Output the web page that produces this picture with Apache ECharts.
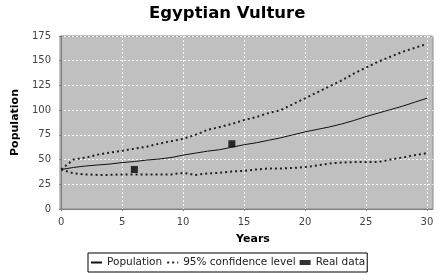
<!DOCTYPE html>
<html>
<head>
<meta charset="utf-8">
<script src="https://cdn.jsdelivr.net/npm/echarts@6/dist/echarts.min.js"></script>
<style>
  html, body { margin: 0; padding: 0; background: #fff; }
  #chart { width: 441px; height: 280px; }
</style>
</head>
<body>
<div id="chart"></div>
<script>
// values
const years = [0, 1, 2, 3, 4, 5, 6, 7, 8, 9, 10, 11, 12, 13, 14, 15, 16, 17, 18, 19, 20, 21, 22, 23, 24, 25, 26, 27, 28, 29, 30];
const population = [40, 42, 43.5, 44.5, 45.5, 47, 48, 49.5, 50.5, 52, 54.5, 56.5, 58.5, 60, 62.5, 65, 67, 69.5, 72, 75, 78, 80.5, 83, 86, 89.5, 93.5, 97, 100.5, 104, 108, 112];
const upper95 = [40, 50, 52, 55, 57, 59, 61, 63, 66, 68.5, 71, 75, 80, 83, 86, 90, 93, 97, 100, 106, 112, 118, 124, 130, 137, 143, 149, 154, 159, 163, 167];
const lower95 = [40, 36, 35, 34.5, 34.5, 35, 35, 35, 35, 35, 36.5, 34.5, 36, 36.5, 38, 38.5, 40, 41, 41, 41.5, 42.5, 44, 46, 47, 47.5, 47.5, 47.5, 50, 52, 54.5, 56.5];
const realYears = [6, 14];
const realValues = [40, 66];
const xTicks = [0, 5, 10, 15, 20, 25, 30];

const font = 'DejaVu Sans';
const pairs = (xs, ys) => xs.map((x, i) => [x, ys[i]]);

const dotted = {
  type: 'line',
  name: '95% confidence level',
  symbol: 'none',
  lineStyle: { color: '#222', width: 2, type: [2, 3], cap: 'butt' },
  itemStyle: { color: '#222' },
  z: 3
};

const chart = echarts.init(document.getElementById('chart'), null, { renderer: 'canvas' });
chart.setOption({
  animation: false,
  backgroundColor: '#fff',
  title: {
    text: 'Egyptian Vulture',
    left: 149,
    top: 5,
    padding: 0,
    textStyle: { fontFamily: font, fontSize: 16.5, fontWeight: 'bold', color: '#000' }
  },
  legend: {
    left: 88,
    top: 253,
    padding: [4, 2],
    itemGap: 4,
    itemWidth: 11,
    itemHeight: 5,
    borderColor: '#000',
    borderWidth: 1,
    borderRadius: 0,
    textStyle: { fontFamily: font, fontSize: 10.5, color: '#222' },
    data: [
      { name: 'Population', itemStyle: { opacity: 0 } },
      { name: '95% confidence level', itemStyle: { opacity: 0 } },
      { name: 'Real data' }
    ]
  },
  grid: {
    left: 60,
    right: 8,
    top: 36,
    bottom: 71,
    show: true,
    backgroundColor: '#c0c0c0',
    borderColor: '#8a8a8a',
    borderWidth: 1
  },
  xAxis: {
    type: 'value',
    min: -0.1,
    max: 30.5,
    offset: 3,
    name: 'Years',
    nameLocation: 'middle',
    nameGap: 22,
    nameTextStyle: { fontFamily: font, fontSize: 11, fontWeight: 'bold', color: '#000', padding: [0, 0, 0, 13] },
    axisLine: { show: true, lineStyle: { color: '#808080' } },
    axisTick: { show: true, length: 2, customValues: xTicks, lineStyle: { color: '#808080' } },
    axisLabel: { customValues: xTicks, margin: 5, fontFamily: font, fontSize: 10, color: '#444' },
    splitLine: { show: true, lineStyle: { color: 'rgba(255,255,255,0.85)', type: [2, 2], width: 1 } }
  },
  yAxis: {
    type: 'value',
    min: 0,
    max: 175,
    interval: 25,
    offset: 3,
    name: 'Population',
    nameLocation: 'middle',
    nameGap: 33,
    nameTextStyle: { fontFamily: font, fontSize: 11, fontWeight: 'bold', color: '#000' },
    axisLine: { show: true, lineStyle: { color: '#808080' } },
    axisTick: { show: true, length: 2, lineStyle: { color: '#808080' } },
    axisLabel: { margin: 6, fontFamily: font, fontSize: 10, color: '#444' },
    splitLine: { show: true, lineStyle: { color: 'rgba(255,255,255,0.85)', type: [2, 2], width: 1 } }
  },
  series: [
    {
      type: 'line',
      name: 'Population',
      symbol: 'none',
      data: pairs(years, population),
      lineStyle: { color: '#111', width: 1 },
      itemStyle: { color: '#111' },
      z: 3
    },
    Object.assign({}, dotted, { data: pairs(years, upper95) }),
    Object.assign({}, dotted, { data: pairs(years, lower95) }),
    {
      type: 'scatter',
      name: 'Real data',
      symbol: 'rect',
      symbolSize: 7,
      data: pairs(realYears, realValues),
      itemStyle: { color: '#000' },
      z: 4
    }
  ]
});
</script>
</body>
</html>
